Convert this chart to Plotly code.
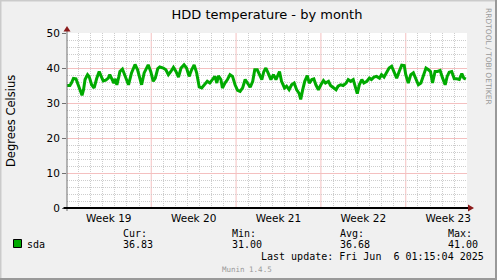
import plotly.graph_objects as go
import pandas as pd

# ---------------- data ----------------
title_text = "HDD temperature - by month"
y_title = "Degrees Celsius"
series_name = "sda"
series_color = "#00aa00"

# sample times, hours since 2025-05-04 00:00
hours_since_may4 = [
    1, 7, 10, 14, 19, 24, 28, 31, 34, 37, 42, 45, 50, 55, 60, 65, 69, 73, 78, 83,
    86, 90, 94, 96, 100, 104, 106, 111, 116, 123, 129, 136, 141, 146, 149, 154, 159, 162, 167, 172,
    176, 181, 185, 192, 197, 202, 207, 212, 217, 222, 227, 233, 238, 243, 248, 253, 258, 263, 268, 273,
    279, 284, 290, 294, 298, 301, 306, 309, 314, 319, 324, 329, 334, 339, 344, 349, 354, 358, 364,
    369, 373, 378, 382, 387, 391, 395, 400, 405, 410, 415, 422, 426, 432, 436, 441, 446, 451, 456, 461,
    464, 468, 472, 477, 481, 486, 490, 494, 499, 504, 509, 513, 519, 523, 529, 534, 538, 543, 548, 554,
    558, 563, 568, 573, 576, 580, 585, 589, 595, 600, 604, 609, 614, 620, 624, 629, 634, 639, 644, 649,
    654, 659, 664, 669, 672, 677, 682, 687, 692, 697, 702, 707, 712, 717, 721, 725, 730, 735, 740, 745,
    750, 754, 758, 763, 768, 773, 778, 783, 787, 791,
]
temperature = [
    35.0, 35.0, 35.7, 37.0, 36.9, 35.0, 33.0, 32.2, 33.8, 36.7, 38.1, 37.6, 35.2, 34.3, 37.0, 39.0, 37.6, 36.3, 36.5, 37.1,
    38.1, 36.7, 35.7, 36.9, 35.2, 37.6, 39.0, 39.7, 37.6, 35.2, 38.6, 41.0, 39.5, 36.7, 35.2, 38.6, 40.0, 40.9, 39.0, 36.2,
    37.1, 39.8, 40.3, 40.0, 39.5, 38.1, 39.0, 40.2, 39.0, 37.4, 40.0, 40.9, 40.0, 37.6, 39.5, 40.9, 38.6, 34.6, 34.3, 35.2,
    36.2, 35.7, 36.7, 37.6, 35.7, 37.8, 36.7, 34.3, 35.7, 36.7, 38.1, 37.6, 35.2, 33.6, 33.3, 34.3, 36.7, 35.7, 34.5,
    36.2, 39.5, 39.5, 38.4, 36.7, 39.0, 40.0, 38.4, 36.7, 38.1, 36.7, 39.0, 36.2, 34.3, 34.8, 33.8, 35.2, 35.7, 33.8, 32.7,
    31.0, 33.8, 36.2, 37.8, 35.7, 36.7, 36.9, 35.2, 33.8, 35.2, 36.4, 35.7, 36.2, 35.0, 34.3, 33.8, 34.8, 35.2, 35.0, 35.7,
    36.7, 36.2, 36.7, 33.8, 32.7, 35.2, 36.7, 35.7, 36.2, 37.1, 36.7, 37.4, 37.6, 37.1, 38.1, 37.4, 38.6, 40.0, 40.5, 39.0,
    37.1, 39.0, 40.8, 40.7, 38.1, 35.7, 38.1, 38.6, 37.1, 35.2, 35.7, 38.1, 40.0, 39.5, 39.0, 35.7, 39.0, 39.0, 39.3, 37.1,
    35.2, 37.6, 38.8, 39.0, 36.9, 36.9, 36.7, 38.4, 37.1, 36.83,
]

base_time = "2025-05-04 00:00:00"
range_start = "2025-05-04 01:15:04"
range_end = "2025-06-06 01:15:04"
week_starts = ["2025-05-04", "2025-05-11", "2025-05-18", "2025-05-25", "2025-06-01"]
week_labels = ["Week 19", "Week 20", "Week 21", "Week 22", "Week 23"]
y_ticks = [0, 10, 20, 30, 40, 50]
y_tick_labels = ["0", "10", "20", "30", "40", "50"]
y_minor_step = 2

stat_names = ["Cur:", "Min:", "Avg:", "Max:"]
stat_values = ["36.83", "31.00", "36.68", "41.00"]
last_update = "Last update: Fri Jun  6 01:15:04 2025"
watermark = "Munin 1.4.5"
side_text = "RRDTOOL / TOBI OETIKER"

# ---------------- layout geometry ----------------
W, H = 497, 280
L, R, T, B = 67, 30, 33, 72
PW, PH = W - L - R, H - T - B


def px(x):
    return (x - L) / PW


def py(y):
    return (H - B - y) / PH


x_times = pd.Timestamp(base_time) + pd.to_timedelta(hours_since_may4, unit="h")
ws = pd.to_datetime(week_starts)
label_pos = ws + pd.Timedelta(hours=84)
rs, re_ = pd.Timestamp(range_start), pd.Timestamp(range_end)

# minor grid positions (skip those that coincide with major grid lines)
week_set = set(ws)
day_lines = [d.strftime("%Y-%m-%d") for d in pd.date_range(rs.normalize(), re_, freq="D")
             if rs < d < re_ and d not in week_set]
y_minor_vals = [v for v in range(0, 51, y_minor_step) if v not in y_ticks]

BG = "#f0f0f0"
MINOR = "#cdcdcd"
MAJOR = "#f4c0c0"
AXIS = "#707070"
ARROW = "#8b1a1a"
MONO = "DejaVu Sans Mono"
SANS = "DejaVu Sans"

fig = go.Figure()
fig.add_trace(go.Scatter(
    x=x_times, y=temperature, mode="lines", name=series_name,
    line=dict(color=series_color, width=3), hoverinfo="skip", showlegend=False,
))

shapes = []
# weekly red grid lines
for w in ws:
    if rs < w < re_:
        shapes.append(dict(type="line", xref="x", yref="y", x0=w.strftime("%Y-%m-%d"), x1=w.strftime("%Y-%m-%d"),
                           y0=0, y1=50, line=dict(color=MAJOR, width=1), layer="below"))
# y axis line
shapes.append(dict(type="line", xref="paper", yref="paper", x0=px(67), x1=px(67), y0=py(211), y1=py(31),
                   line=dict(color=AXIS, width=1)))
# x axis (zero) line
shapes.append(dict(type="line", xref="paper", yref="paper", x0=px(63.5), x1=px(469), y0=py(208), y1=py(208),
                   line=dict(color="#000000", width=2)))
# arrows
shapes.append(dict(type="path", xref="paper", yref="paper",
                   path=f"M {px(63.5)} {py(31.5)} L {px(70.5)} {py(31.5)} L {px(67)} {py(26)} Z",
                   fillcolor=ARROW, line=dict(width=0)))
shapes.append(dict(type="path", xref="paper", yref="paper",
                   path=f"M {px(468)} {py(204.5)} L {px(468)} {py(211.5)} L {px(474)} {py(208)} Z",
                   fillcolor=ARROW, line=dict(width=0)))
# legend swatch
shapes.append(dict(type="rect", xref="paper", yref="paper", x0=px(13.5), x1=px(21.5), y0=py(247.5), y1=py(239.5),
                   fillcolor=series_color, line=dict(color="#000000", width=1)))
# outer 3D border
shapes.append(dict(type="line", xref="paper", yref="paper", x0=px(0), x1=px(W), y0=py(0.5), y1=py(0.5),
                   line=dict(color="#cbcbcb", width=2)))
shapes.append(dict(type="line", xref="paper", yref="paper", x0=px(0.5), x1=px(0.5), y0=py(0), y1=py(H),
                   line=dict(color="#cbcbcb", width=2)))
shapes.append(dict(type="line", xref="paper", yref="paper", x0=px(0), x1=px(W), y0=py(H - 1), y1=py(H - 1),
                   line=dict(color="#999999", width=2)))
shapes.append(dict(type="line", xref="paper", yref="paper", x0=px(W - 1), x1=px(W - 1), y0=py(0), y1=py(H),
                   line=dict(color="#999999", width=2)))

ann = []


def text(x, y, s, size=10, family=MONO, color="#000000", xanchor="left", angle=0):
    ann.append(dict(xref="paper", yref="paper", x=px(x), y=py(y), text=s.replace(" ", "\u00a0"),
                    showarrow=False, xanchor=xanchor, yanchor="middle", textangle=angle,
                    font=dict(family=family, size=size, color=color), borderpad=0, borderwidth=0))


text(11, 121, y_title, size=11.5, family=SANS, xanchor="center", angle=-90)
text(488.5, 56.5, side_text, size=7.5, family=SANS, color="#999999", xanchor="center", angle=90)
text(27, 244, series_name)
stat_x = [123, 232, 340, 447.5]
for sx, nm, val in zip(stat_x, stat_names, stat_values):
    text(sx, 233, nm)
    text(sx, 244, val)
text(483.5, 256.5, last_update, xanchor="right")
text(246.5, 269, watermark, size=7.5, color="#999999", xanchor="center")

fig.update_layout(
    width=W, height=H,
    margin=dict(l=L, r=R, t=T, b=B),
    paper_bgcolor=BG, plot_bgcolor="#ffffff",
    font=dict(family=SANS, size=10.5, color="#000000"),
    title=dict(text=title_text, x=px(267), xref="paper", xanchor="center", y=1 - 14 / H, yref="container",
               yanchor="middle", font=dict(family=SANS, size=13, color="#000000")),
    shapes=shapes, annotations=ann, showlegend=False,
    xaxis=dict(type="date", range=[rs, re_], tickmode="array", tickvals=label_pos, ticktext=week_labels,
               ticks="", showgrid=False, showline=False, zeroline=False, ticklabelstandoff=2,
               minor=dict(tickmode="array", tickvals=day_lines, showgrid=True, gridcolor=MINOR,
                          griddash="1px,1px", gridwidth=1),
               tickfont=dict(family=SANS, size=10.5)),
    yaxis=dict(range=[0, 50], tickmode="array", tickvals=y_ticks, ticktext=y_tick_labels,
               ticks="outside", ticklen=4, tickcolor=AXIS, tickwidth=1, showline=False, zeroline=False,
               showgrid=True, gridcolor=MAJOR, gridwidth=1,
               minor=dict(tickmode="array", tickvals=y_minor_vals, showgrid=True, gridcolor=MINOR,
                          griddash="1px,1px", gridwidth=1),
               tickfont=dict(family=SANS, size=10.5)),
)

fig.write_html("out.html")
